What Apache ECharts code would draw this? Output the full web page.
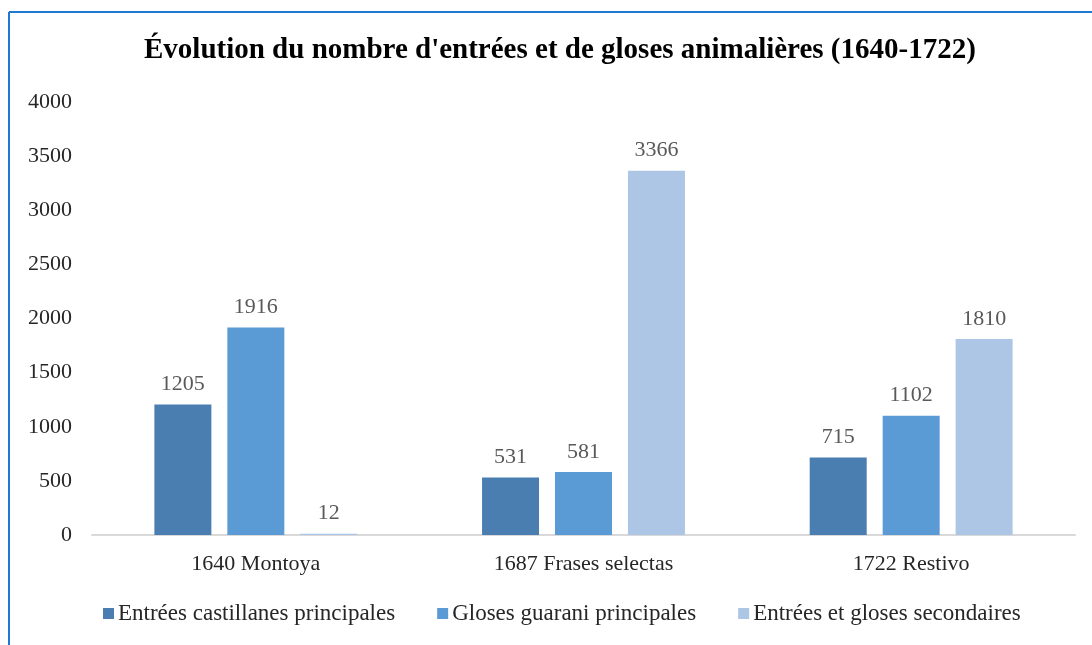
<!DOCTYPE html>
<html><head><meta charset="utf-8">
<script src="https://cdn.jsdelivr.net/npm/echarts@6/dist/echarts.min.js"></script>
<style>html,body{margin:0;padding:0;background:#fff;}#c{width:1092px;height:645px;}</style>
</head><body><div id="c"></div>
<script>
const categories = ['1640 Montoya', '1687 Frases selectas', '1722 Restivo'];
const seriesNames = ['Entrées castillanes principales', 'Gloses guarani principales', 'Entrées et gloses secondaires'];
const castillanes = [1205, 531, 715];
const guarani = [1916, 581, 1102];
const secondaires = [12, 3366, 1810];
const yTicks = [0, 500, 1000, 1500, 2000, 2500, 3000, 3500, 4000];
const colors = ['#4a7eb1', '#5b9bd5', '#adc6e6'];
const font = '"Liberation Serif", "DejaVu Serif", serif';

const chart = echarts.init(document.getElementById('c'));
const mk = (name, data, color) => ({
  name, type: 'bar', data, barWidth: 57, barGap: '28%',
  itemStyle: { color },
  label: { show: true, position: 'top', distance: 9, color: '#595959', fontFamily: font, fontSize: 22 }
});
chart.setOption({
  animation: false,
  title: {
    text: "Évolution du nombre d'entrées et de gloses animalières (1640-1722)",
    left: 139, top: 31,
    textStyle: { fontFamily: font, fontSize: 29, fontWeight: 'bold', color: '#000' }
  },
  graphic: [
    { type: 'line', shape: { x1: 9, y1: 12, x2: 1092, y2: 12 }, style: { stroke: '#1f78d1', lineWidth: 2 } },
    { type: 'line', shape: { x1: 9, y1: 12, x2: 9, y2: 645 }, style: { stroke: '#1f78d1', lineWidth: 2 } }
  ],
  grid: { left: 92, right: 17, top: 102, bottom: 110 },
  legend: {
    bottom: 15, left: 98, itemWidth: 11, itemHeight: 11, itemGap: 42,
    icon: 'rect',
    textStyle: { fontFamily: font, fontSize: 23, color: '#262626', padding: [0, 0, 0, -1] },
    data: seriesNames
  },
  xAxis: {
    type: 'category', data: categories,
    axisLine: { lineStyle: { color: '#d9d9d9', width: 2 } },
    axisTick: { show: false },
    axisLabel: { fontFamily: font, fontSize: 22, color: '#262626', margin: 18 }
  },
  yAxis: {
    type: 'value', min: yTicks[0], max: yTicks[yTicks.length - 1], interval: 500,
    axisLine: { show: false }, axisTick: { show: false },
    splitLine: { show: false },
    axisLabel: { fontFamily: font, fontSize: 22, color: '#262626', margin: 20, formatter: v => String(v) }
  },
  series: [
    mk(seriesNames[0], castillanes, colors[0]),
    mk(seriesNames[1], guarani, colors[1]),
    mk(seriesNames[2], secondaires, colors[2])
  ]
});
</script></body></html>
